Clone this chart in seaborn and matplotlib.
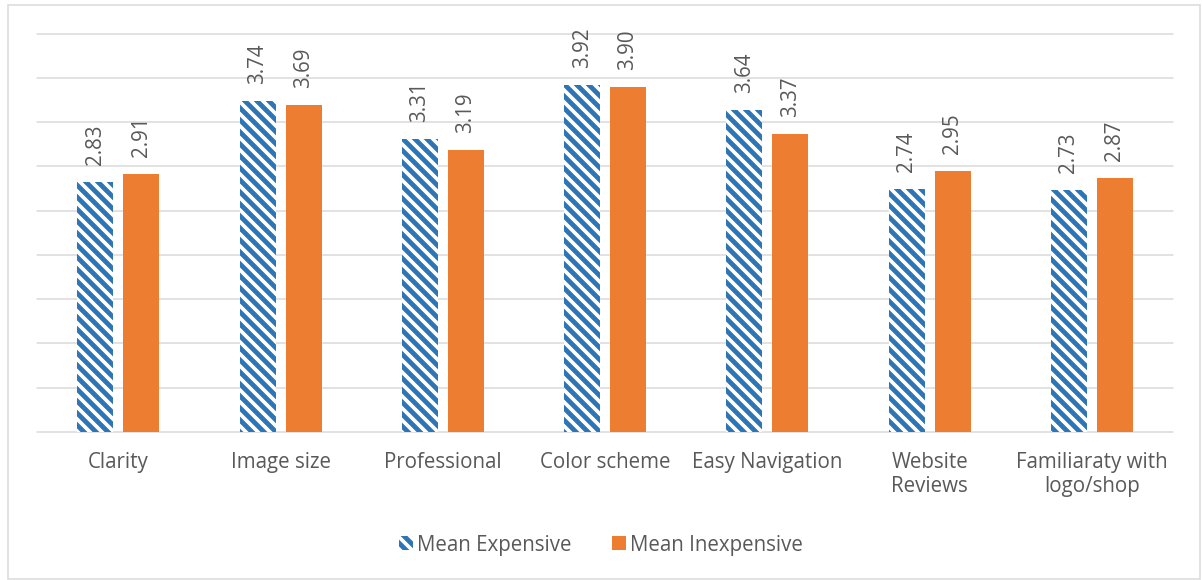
import matplotlib
matplotlib.use("Agg")
import matplotlib.pyplot as plt
from matplotlib.patches import Patch, Rectangle
import pandas as pd
import seaborn as sns

categories = ["Clarity", "Image size", "Professional", "Color scheme",
              "Easy Navigation", "Website\nReviews", "Familiaraty with\nlogo/shop"]
series_names = ["Mean Expensive", "Mean Inexpensive"]
mean_expensive = [2.83, 3.74, 3.31, 3.92, 3.64, 2.74, 2.73]
mean_inexpensive = [2.91, 3.69, 3.19, 3.90, 3.37, 2.95, 2.87]

BLUE = "#2E75B6"
ORANGE = "#ED7D31"
TEXT = "#595959"
GRID = "#D9D9D9"
FS = 20.5

df = pd.DataFrame({
    "category": categories * 2,
    "series": [series_names[0]] * len(categories) + [series_names[1]] * len(categories),
    "value": mean_expensive + mean_inexpensive,
})

sns.set_theme(style="white")
plt.rcParams["font.family"] = ["Open Sans", "DejaVu Sans"]
plt.rcParams["hatch.linewidth"] = 4.8

# 72 dpi so that one point equals one pixel
fig = plt.figure(figsize=(1202 / 72, 580 / 72), dpi=72)
ax = fig.add_axes([37.2 / 1202, 1 - 432 / 580, (1173 - 37.2) / 1202, (432 - 33.7) / 580])

sns.barplot(data=df, x="category", y="value", hue="series", order=categories,
            hue_order=series_names, palette=[BLUE, ORANGE], saturation=1,
            width=0.566, gap=0.215, linewidth=0, legend=False, ax=ax, zorder=3)

# Expensive series: white bars with diagonal blue stripes
for bar in ax.containers[0]:
    bar.set_facecolor("white")
    bar.set_edgecolor(BLUE)
    bar.set_hatch("\\\\")
    bar.set_linewidth(0)

for cont in ax.containers:
    ax.bar_label(cont, fmt="%.2f", rotation=90, padding=17, fontsize=FS, color=TEXT)

ax.set_ylim(0, 4.5)
ax.set_xlim(-0.5, len(categories) - 0.5)
ax.set_yticks([i * 0.5 for i in range(10)])
ax.set_yticklabels([])
ax.grid(axis="y", color=GRID, linewidth=1.5, zorder=0)
for gl in ax.get_ygridlines():
    gl.set_clip_on(False)
for s in ax.spines.values():
    s.set_visible(False)
ax.tick_params(axis="x", length=0, pad=20, labelsize=FS, labelcolor=TEXT)
ax.tick_params(axis="y", length=0)
for lbl in ax.get_xticklabels():
    lbl.set_linespacing(1.2)
ax.set_xlabel("")
ax.set_ylabel("")

handles = [
    Patch(facecolor="white", edgecolor=BLUE, hatch="\\\\", linewidth=0, label=series_names[0]),
    Patch(facecolor=ORANGE, edgecolor=ORANGE, linewidth=0, label=series_names[1]),
]
fig.legend(handles=handles, loc="center", bbox_to_anchor=(0.5, 1 - 545 / 580), ncol=2,
           frameon=False, fontsize=FS, labelcolor=TEXT, handlelength=0.65,
           handleheight=0.65, handletextpad=0.2, columnspacing=2.0)

fig.patches.append(Rectangle((7.5 / 1202, 1.5 / 580), (1200 - 7.5) / 1202, (575 - 1.5) / 580,
                             transform=fig.transFigure, fill=False, edgecolor=GRID,
                             linewidth=1.5, figure=fig))

fig.savefig("out.png", dpi=72, facecolor="white")
